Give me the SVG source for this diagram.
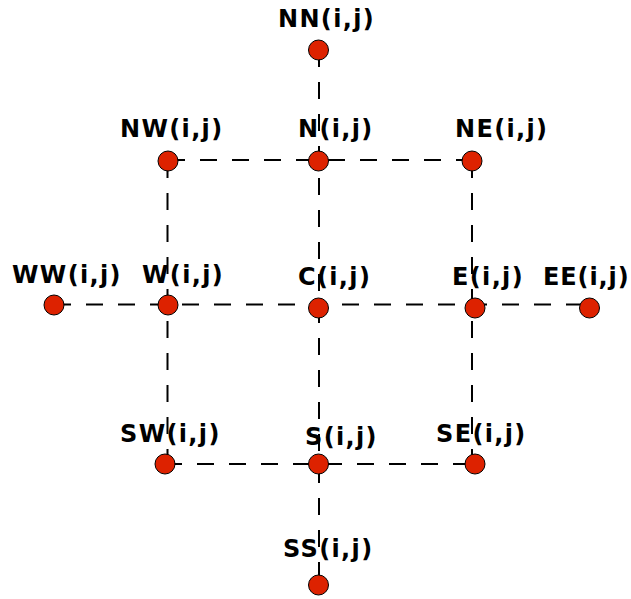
<svg xmlns="http://www.w3.org/2000/svg" width="631" height="599" viewBox="0 0 631 599">
<style>
.lbl{font-family:"DejaVu Sans",Verdana,sans-serif;font-weight:bold;font-size:24px;letter-spacing:1.35px;fill:#000}
.ln{stroke:#000;stroke-width:2;stroke-dasharray:17 15;fill:none}
.nd{fill:#dd2200;stroke:#000;stroke-width:1}
</style>
<rect width="631" height="599" fill="#fff"/>
<g id="labels">
<text class="lbl" x="278" y="27">NN(i,j)</text>
<text class="lbl" x="120" y="137">NW(i,j)</text>
<text class="lbl" x="298" y="137">N(i,j)</text>
<text class="lbl" x="455" y="137">NE(i,j)</text>
<text class="lbl" x="12" y="283">WW(i,j)</text>
<text class="lbl" x="142" y="283">W(i,j)</text>
<text class="lbl" x="298" y="285">C(i,j)</text>
<text class="lbl" x="452" y="285">E(i,j)</text>
<text class="lbl" x="543" y="285" style="letter-spacing:0.9px">EE(i,j)</text>
<text class="lbl" x="120" y="442">SW(i,j)</text>
<text class="lbl" x="305" y="445">S(i,j)</text>
<text class="lbl" x="436" y="442">SE(i,j)</text>
<text class="lbl" x="283" y="557">SS(i,j)</text>
</g>
<g id="connectors">
<line class="ln" x1="319" y1="50" x2="319" y2="585"/>
<line class="ln" x1="167.5" y1="161" x2="167.5" y2="464"/>
<line class="ln" x1="472" y1="161" x2="472" y2="464"/>
<line class="ln" x1="168" y1="160" x2="472" y2="160"/>
<line class="ln" x1="54" y1="304.5" x2="590" y2="304.5"/>
<line class="ln" x1="165" y1="464" x2="475" y2="464"/>
</g>
<g id="node-NN"><circle class="nd" cx="318.5" cy="50" r="10"/></g>
<g id="node-NW"><circle class="nd" cx="168" cy="161" r="10"/></g>
<g id="node-N"><circle class="nd" cx="318.5" cy="161" r="10"/></g>
<g id="node-NE"><circle class="nd" cx="472" cy="161" r="10"/></g>
<g id="node-WW"><circle class="nd" cx="54" cy="305" r="10"/></g>
<g id="node-W"><circle class="nd" cx="168" cy="305" r="10"/></g>
<g id="node-C"><circle class="nd" cx="318.5" cy="308" r="10"/></g>
<g id="node-E"><circle class="nd" cx="475" cy="308" r="10"/></g>
<g id="node-EE"><circle class="nd" cx="589.5" cy="308" r="10"/></g>
<g id="node-SW"><circle class="nd" cx="165" cy="464" r="10"/></g>
<g id="node-S"><circle class="nd" cx="318.5" cy="464" r="10"/></g>
<g id="node-SE"><circle class="nd" cx="475" cy="464" r="10"/></g>
<g id="node-SS"><circle class="nd" cx="318.5" cy="585" r="10"/></g>
</svg>
